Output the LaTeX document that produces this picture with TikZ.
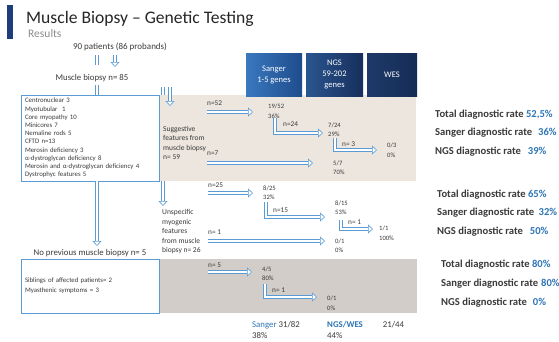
\documentclass[tikz,border=0pt]{standalone}
\usepackage{fontspec}
\setmainfont{Carlito}
\usetikzlibrary{arrows.meta}

\definecolor{titlebar}{HTML}{1F3D7A}
\definecolor{arrowblue}{HTML}{5B9BD5}
\definecolor{textgray}{HTML}{3A3A3A}
\definecolor{rateblue}{HTML}{2E75B6}
\definecolor{beige}{HTML}{ECE6DF}
\definecolor{graypanel}{HTML}{D2CDC8}
\definecolor{sangerA}{HTML}{3A78BF}
\definecolor{sangerB}{HTML}{1E4C8C}
\definecolor{ngsA}{HTML}{2A558F}
\definecolor{ngsB}{HTML}{172F5C}
\definecolor{wesA}{HTML}{1E3A6A}
\definecolor{wesB}{HTML}{162C55}

\tikzset{
  hollow/.style={draw=arrowblue, line width=0.6pt, double=white, double distance=2.6pt},
  hollowarrow/.style={hollow, -{Triangle[length=5pt, width=9pt, fill=white, line width=0.6pt]}},
  listbox/.style={draw=arrowblue, line width=0.8pt, fill=white, inner xsep=4pt, inner ysep=0pt,
    text width=130pt, minimum width=138pt, align=left, text=textgray},
  desc/.style={font=\fontsize{7.5}{9.5}\selectfont, text=textgray, inner sep=0pt, anchor=west, align=left},
  nlabel/.style={font=\fontsize{7.3}{8}\selectfont, text=textgray, inner sep=0pt, anchor=west},
  result/.style={font=\fontsize{6.6}{9.5}\selectfont, text=textgray, inner sep=0pt, anchor=west, align=left},
  rate/.style={font=\bfseries\fontsize{10.6}{13}\selectfont, text=textgray, inner sep=0pt, anchor=west},
  gene/.style={text=white, font=\fontsize{8.5}{11}\selectfont, align=center, minimum height=43pt, inner sep=0pt},
  total/.style={font=\fontsize{8.8}{10}\selectfont, text=textgray, inner sep=0pt, anchor=west},
}

\begin{document}
\begin{tikzpicture}[x=1pt, y=-1pt]
\useasboundingbox[fill=white] (0,0) rectangle (559,341);

\fill[titlebar] (7,5) rectangle (13,39);
\node[anchor=west, inner sep=0pt, font=\fontsize{17.6}{20}\selectfont, text=black!85] (title) at (26,19) {Muscle Biopsy -- Genetic Testing};
\node[anchor=west, inner sep=0pt, font=\fontsize{11.5}{13}\selectfont, text=black!45] (results) at (28,33.5) {Results};

\node[inner sep=0pt, font=\fontsize{9}{10}\selectfont, text=textgray] (pat) at (120,47) {90 patients (86 probands)};
\node[inner sep=0pt, font=\fontsize{8.8}{10}\selectfont, text=textgray] (mb) at (92,78) {Muscle biopsy n= 85};
\node[inner sep=0pt, font=\fontsize{8.8}{10}\selectfont, text=textgray] (nomb) at (90,253) {No previous muscle biopsy n= 5};

\coordinate (trunk) at (97,0);
\coordinate (branch) at (163,0);

\draw[hollow] (97,55) -- (97,65);
\draw[hollowarrow] (115,55) -- (115,67);
\draw[hollow] (97,85) -- (97,95);
\draw[hollowarrow] (163,87) -- (163,206);

\fill[beige] (160,95) rectangle (416,181);
\fill[graypanel] (160,259) rectangle (417,313);

\node[listbox, font=\fontsize{6.8}{8.2}\selectfont, minimum height=86pt] (box1) at (90,138) {Centronuclear 3\\Myotubular\ \ 1\\Core myopathy 10\\Minicores 7\\Nemaline rods 5\\CFTD n=13\\Merosin deficiency 3\\α-dystroglycan deficiency 8\\Merosin and α-dystroglycan deficiency 4\\Dystrophyc features 5};
\node[listbox, font=\fontsize{6.8}{10}\selectfont, minimum height=54pt] (box2) at (90,286) {Siblings of affected patients= 2\\Myasthenic symptoms = 3};

\draw[hollowarrow] (box1.south -| trunk) -- (97,246);
\draw[hollowarrow] (170,87) -- (170,106);

\node[gene, minimum width=56pt, left color=sangerA, right color=sangerB] (sanger) at (274,74.5) {Sanger\\1-5 genes};
\node[gene, minimum width=57pt, left color=ngsA, right color=ngsB] (ngs) at (334.5,74.5) {NGS\\59-202\\genes};
\node[gene, minimum width=50pt, left color=wesA, right color=wesB] (wes) at (392,74.5) {WES};

% suggestive features
\node[desc] (sugg) at (163,143) {Suggestive\\features from\\muscle biopsy\\n= 59};
\node[nlabel] (n52) at (207,103) {n=52};
\draw[hollowarrow] (207,112) -- (253,112);
\node[result] (r1952) at (268,111) {19/52\\36\%};
\node[nlabel] (n24) at (283,124) {n=24};
\draw[hollowarrow] (275,118) |- (323,133);
\node[result] (r724) at (328,129.5) {7/24\\29\%};
\node[nlabel] (n3) at (342,144) {n= 3};
\draw[hollowarrow] (335,138) |- (377,150);
\node[result] (r03) at (387,150) {0/3\\0\%};
\node[nlabel] (n7) at (207,153) {n=7};
\draw[hollowarrow] (207,163) -- (313,163);
\node[result] (r57) at (333,167.5) {5/7\\70\%};

% unspecific features
\node[desc] (unspec) at (162,232) {Unspecific\\myogenic\\features\\from muscle\\biopsy n= 26};
\node[nlabel] (n25) at (208,185) {n=25};
\draw[hollowarrow] (208,193) -- (253,193);
\node[result] (r825) at (263,192.5) {8/25\\32\%};
\node[nlabel] (n15) at (273,210) {n=15};
\draw[hollowarrow] (266,202) |- (325,217);
\node[result] (r815) at (335,207.5) {8/15\\53\%};
\node[nlabel] (n1a) at (348,222) {n= 1};
\draw[hollowarrow] (341,220) |- (373,229);
\node[result] (r11) at (379,233) {1/1\\100\%};
\node[nlabel] (n1b) at (208,232) {n= 1};
\draw[hollowarrow] (208,241) -- (325,241);
\node[result] (r01a) at (335,245.5) {0/1\\0\%};

% no biopsy
\node[nlabel] (n5) at (208,265) {n= 5};
\draw[hollowarrow] (208,272) -- (252,272);
\node[result] (r45) at (262,273.5) {4/5\\80\%};
\node[nlabel] (n1c) at (272,290) {n= 1};
\draw[hollowarrow] (265,284) |- (317,297);
\node[result] (r01b) at (327,303) {0/1\\0\%};

% totals
\node[total] (sangtot) at (252,325) {\textcolor{rateblue}{Sanger} 31/82};
\node[total] (sangpct) at (252,335.5) {38\%};
\node[total] (ngstot) at (327,325) {\textcolor{rateblue}{\bfseries NGS/WES}\hspace{20pt}21/44};
\node[total] (ngspct) at (327,335.5) {44\%};

\node[rate] (tot1) at (435,115) {Total diagnostic rate \textcolor{rateblue}{52,5\%}};
\node[rate] (san1) at (435,133) {Sanger diagnostic rate\hspace{6pt}\textcolor{rateblue}{36\%}};
\node[rate] (ngs1) at (435,152) {NGS diagnostic rate\hspace{7pt}\textcolor{rateblue}{39\%}};
\node[rate] (tot2) at (437,195) {Total diagnostic rate \textcolor{rateblue}{65\%}};
\node[rate] (san2) at (437,213) {Sanger diagnostic rate\hspace{4.5pt}\textcolor{rateblue}{32\%}};
\node[rate] (ngs2) at (437,232) {NGS diagnostic rate\hspace{7pt}\textcolor{rateblue}{50\%}};
\node[rate] (tot3) at (441,265) {Total diagnostic rate \textcolor{rateblue}{80\%}};
\node[rate] (san3) at (441,284) {Sanger diagnostic rate\hspace{3pt}\textcolor{rateblue}{80\%}};
\node[rate] (ngs3) at (441,303) {NGS diagnostic rate\hspace{6pt}\textcolor{rateblue}{0\%}};

\end{tikzpicture}
\end{document}
